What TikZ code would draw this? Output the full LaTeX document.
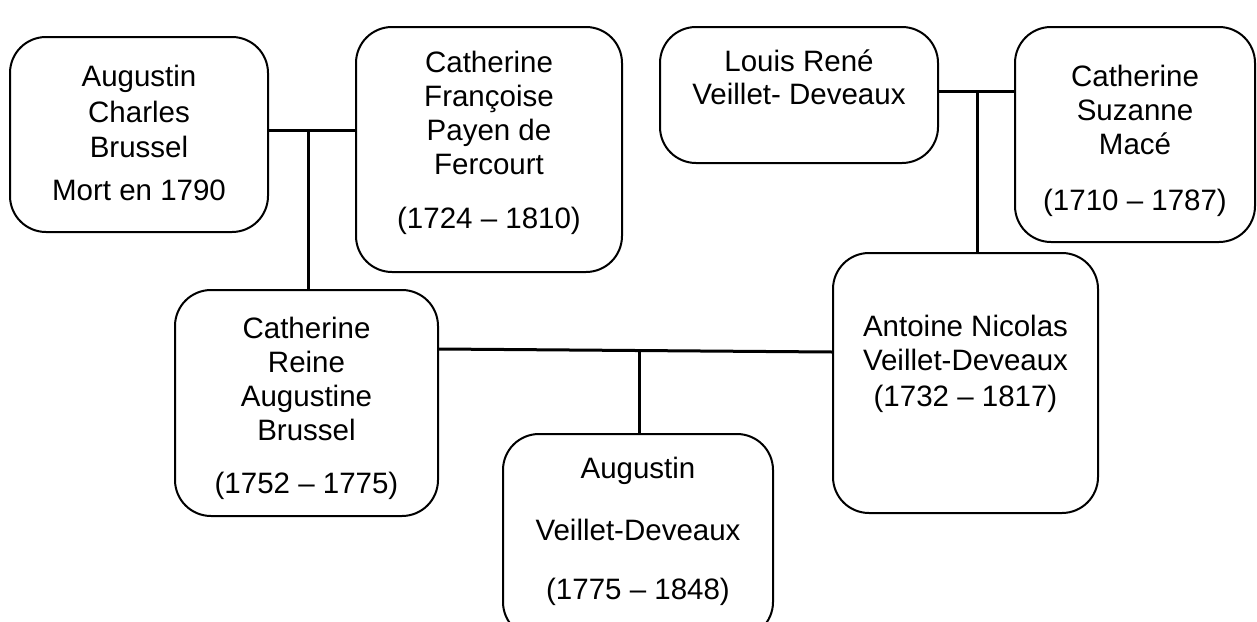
\documentclass[tikz,border=0pt]{standalone}
\usepackage{fontspec}
\setmainfont{Liberation Sans}
\begin{document}
\begin{tikzpicture}[x=1pt,y=-1pt,
  person/.style={draw=black, line width=2pt, rounded corners=36pt, inner sep=0pt},
  lbl/.style={anchor=base, inner sep=0pt, font=\fontsize{29.5}{34}\selectfont},
  link/.style={draw=black, line width=3pt}]
\useasboundingbox (0,0) rectangle (1257,621);
% boxes
\node[person, minimum width=258pt, minimum height=195pt] (b1) at (139,134.5) {};
\node[person, minimum width=266pt, minimum height=245pt] (b2) at (489,149.5) {};
\node[person, minimum width=278pt, minimum height=136pt] (b3) at (799,95) {};
\node[person, minimum width=240pt, minimum height=215pt] (b4) at (1135,134.5) {};
\node[person, minimum width=263pt, minimum height=226pt] (b5) at (306.5,403) {};
\node[person, minimum width=265pt, minimum height=260pt] (b6) at (965.5,383) {};
\node[person, minimum width=270pt, minimum height=204pt] (b7) at (638,536) {};
% texts
\node[lbl] (t11) at (139,86) {Augustin};
\node[lbl] (t12) at (139,122) {Charles};
\node[lbl] (t13) at (139,157) {Brussel};
\node[lbl] (t14) at (139,200) {Mort en 1790};
\node[lbl] (t21) at (489,72) {Catherine};
\node[lbl] (t22) at (489,106) {Françoise};
\node[lbl] (t23) at (489,140) {Payen de};
\node[lbl] (t24) at (489,174) {Fercourt};
\node[lbl] (t25) at (489,228) {(1724 – 1810)};
\node[lbl] (t31) at (799,71) {Louis René};
\node[lbl] (t32) at (799,104) {Veillet- Deveaux};
\node[lbl] (t41) at (1135,86) {Catherine};
\node[lbl] (t42) at (1135,120) {Suzanne};
\node[lbl] (t43) at (1135,154) {Macé};
\node[lbl] (t44) at (1135,210) {(1710 – 1787)};
\node[lbl] (t51) at (306.5,338) {Catherine};
\node[lbl] (t52) at (306.5,372) {Reine};
\node[lbl] (t53) at (306.5,406) {Augustine};
\node[lbl] (t54) at (306.5,440) {Brussel};
\node[lbl] (t55) at (306.5,493) {(1752 – 1775)};
\node[lbl] (t61) at (965.5,336) {Antoine Nicolas};
\node[lbl] (t62) at (965.5,370) {Veillet-Deveaux};
\node[lbl] (t63) at (965.5,406) {(1732 – 1817)};
\node[lbl] (t71) at (638,478) {Augustin};
\node[lbl] (t72) at (638,540) {Veillet-Deveaux};
\node[lbl] (t73) at (638,599) {(1775 – 1848)};
% connectors
\coordinate (m1) at (308,130);
\coordinate (m2) at (977,91);
\coordinate (m3) at (639,350.5);
\draw[link] (b1.east |- m1) -- (b2.west |- m1);
\draw[link] (m1) -- (b5.north -| m1);
\draw[link] (b3.east |- m2) -- (b4.west |- m2);
\draw[link] (m2) -- (b6.north -| m2);
\coordinate (l5) at (438,349);
\coordinate (l6) at (833,352);
\draw[link] (b5.east |- l5) -- (b6.west |- l6);
\draw[link] (m3) -- (b7.north -| m3);
\end{tikzpicture}
\end{document}
